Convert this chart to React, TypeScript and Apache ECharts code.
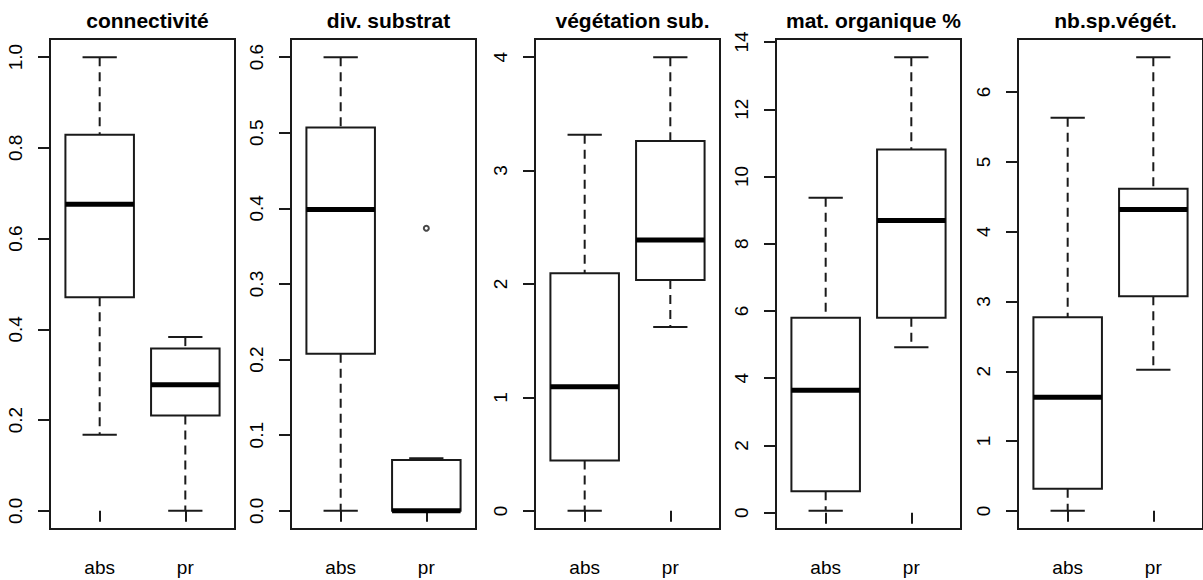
import React, { useEffect, useRef } from "react";
import * as echarts from "echarts";

// Categories and panel titles
const categories = ["abs", "pr"];
const titles = ["connectivité", "div. substrat", "végétation sub.", "mat. organique %", "nb.sp.végét."];

// Box statistics: [min, q1, median, q3, max]
const connectiviteAbs = [0.168, 0.471, 0.676, 0.829, 1.0];
const connectivitePr = [0.0, 0.21, 0.278, 0.358, 0.383];
const substratAbs = [0.0, 0.2076, 0.3986, 0.507, 0.6];
const substratPr = [0.0, 0.0, 0.0, 0.0674, 0.0694];
const substratPrOutliers = [0.3737];
const vegetationAbs = [0.0, 0.443, 1.094, 2.094, 3.316];
const vegetationPr = [1.622, 2.036, 2.388, 3.26, 4.0];
const organiqueAbs = [0.055, 0.64, 3.64, 5.8, 9.37];
const organiquePr = [4.92, 5.8, 8.69, 10.8, 13.55];
const especesAbs = [0.0, 0.317, 1.628, 2.775, 5.63];
const especesPr = [2.02, 3.076, 4.318, 4.614, 6.5];

// Tick labels
const ticksConnectivite = ["0.0", "0.2", "0.4", "0.6", "0.8", "1.0"];
const ticksSubstrat = ["0.0", "0.1", "0.2", "0.3", "0.4", "0.5", "0.6"];
const ticksVegetation = ["0", "1", "2", "3", "4"];
const ticksOrganique = ["0", "2", "4", "6", "8", "10", "12", "14"];
const ticksEspeces = ["0", "1", "2", "3", "4", "5", "6"];

const panels = [
  { title: titles[0], abs: connectiviteAbs, pr: connectivitePr, outPr: [] as number[], ticks: ticksConnectivite },
  { title: titles[1], abs: substratAbs, pr: substratPr, outPr: substratPrOutliers, ticks: ticksSubstrat },
  { title: titles[2], abs: vegetationAbs, pr: vegetationPr, outPr: [] as number[], ticks: ticksVegetation },
  { title: titles[3], abs: organiqueAbs, pr: organiquePr, outPr: [] as number[], ticks: ticksOrganique },
  { title: titles[4], abs: especesAbs, pr: especesPr, outPr: [] as number[], ticks: ticksEspeces },
];

const plotLefts = [50, 291, 535, 776, 1018];
const plotWidth = 185;
const plotTop = 39;
const plotHeight = 490;
const FONT = "Liberation Sans, Arial, sans-serif";
const INK = "#1a1a1a";

export default function App() {
  const ref = useRef<HTMLDivElement>(null);
  useEffect(() => {
    document.body.style.margin = "0";
    const chart = echarts.init(ref.current!, null, { renderer: "svg" });
    const grid: any[] = [];
    const xAxis: any[] = [];
    const yAxis: any[] = [];
    const series: any[] = [];
    const title: any[] = [];
    panels.forEach((p, i) => {
      const all = [...p.abs, ...p.pr, ...p.outPr];
      const lo = Math.min(...all);
      const hi = Math.max(...all);
      const pad = (hi - lo) * 0.04;
      grid.push({
        left: plotLefts[i],
        top: plotTop,
        width: plotWidth,
        height: plotHeight,
        show: true,
        borderColor: INK,
        borderWidth: 2,
        backgroundColor: "transparent",
      });
      title.push({
        text: p.title,
        left: plotLefts[i] + plotWidth / 2,
        top: 5,
        textAlign: "center",
        textStyle: { fontFamily: FONT, fontWeight: "bold", fontSize: 21, color: "#000" },
      });
      xAxis.push({
        type: "value",
        gridIndex: i,
        min: 0.42,
        max: 2.58,
        axisLine: { show: false },
        splitLine: { show: false },
        axisTick: { show: true, length: 11, customValues: [1, 2], lineStyle: { color: INK, width: 2 } },
        axisLabel: {
          show: true,
          customValues: [1, 2],
          margin: 29,
          formatter: (v: number) => categories[Math.round(v) - 1] ?? "",
          fontFamily: FONT,
          fontSize: 19,
          color: "#000",
        },
      });
      yAxis.push({
        type: "value",
        gridIndex: i,
        min: lo - pad,
        max: hi + pad,
        axisLine: { show: false },
        splitLine: { show: false },
        axisTick: {
          show: true,
          length: 12,
          customValues: p.ticks.map((t) => parseFloat(t)),
          lineStyle: { color: INK, width: 2 },
        },
        axisLabel: {
          show: true,
          rotate: 90,
          margin: 25,
          customValues: p.ticks.map((t) => parseFloat(t)),
          formatter: (v: number) => {
            const idx = p.ticks.findIndex((t) => Math.abs(parseFloat(t) - v) < 1e-9);
            return idx >= 0 ? p.ticks[idx] : "";
          },
          fontFamily: FONT,
          fontSize: 19,
          color: "#000",
        },
      });
      series.push({
        type: "custom",
        xAxisIndex: i,
        yAxisIndex: i,
        encode: { x: 0, y: [1, 2, 3, 4, 5] },
        data: [
          [1, ...p.abs],
          [2, ...p.pr],
        ],
        renderItem: (params: any, api: any) => {
          const x = api.value(0);
          const vmin = api.value(1);
          const q1 = api.value(2);
          const med = api.value(3);
          const q3 = api.value(4);
          const vmax = api.value(5);
          const lt = api.coord([x - 0.4, q3]);
          const rb = api.coord([x + 0.4, q1]);
          const cMin = api.coord([x, vmin]);
          const cMax = api.coord([x, vmax]);
          const capL = api.coord([x - 0.2, vmin])[0];
          const capR = api.coord([x + 0.2, vmin])[0];
          const mL = api.coord([x - 0.4, med]);
          const mR = api.coord([x + 0.4, med]);
          const base = { stroke: INK, lineWidth: 2 };
          const dash = { stroke: INK, lineWidth: 2, lineDash: [9, 6] };
          return {
            type: "group",
            children: [
              { type: "line", shape: { x1: cMax[0], y1: cMax[1], x2: cMax[0], y2: lt[1] }, style: dash },
              { type: "line", shape: { x1: cMin[0], y1: rb[1], x2: cMin[0], y2: cMin[1] }, style: dash },
              { type: "line", shape: { x1: capL, y1: cMax[1], x2: capR, y2: cMax[1] }, style: base },
              { type: "line", shape: { x1: capL, y1: cMin[1], x2: capR, y2: cMin[1] }, style: base },
              {
                type: "rect",
                shape: { x: lt[0], y: lt[1], width: rb[0] - lt[0], height: rb[1] - lt[1] },
                style: { fill: "#fff", stroke: INK, lineWidth: 2 },
              },
              { type: "line", shape: { x1: mL[0], y1: mL[1], x2: mR[0], y2: mR[1] }, style: { stroke: "#000", lineWidth: 5 } },
            ],
          };
        },
      });
      if (p.outPr.length) {
        series.push({
          type: "scatter",
          xAxisIndex: i,
          yAxisIndex: i,
          symbol: "emptyCircle",
          symbolSize: 5,
          itemStyle: { color: INK, borderWidth: 1 },
          data: p.outPr.map((v) => [2, v]),
        });
      }
    });
    chart.setOption({
      animation: false,
      backgroundColor: "#fff",
      title,
      grid,
      xAxis,
      yAxis,
      series,
    });
    return () => chart.dispose();
  }, []);
  return (
    <div
      ref={ref}
      style={{ position: "absolute", left: 0, top: 0, width: 1203, height: 580 }}
    />
  );
}
